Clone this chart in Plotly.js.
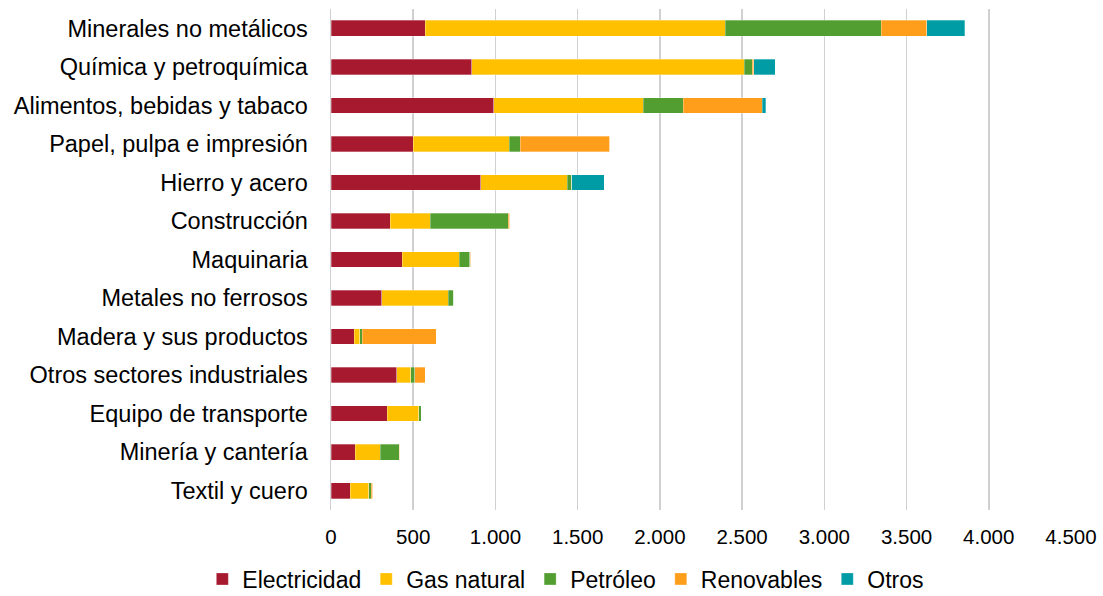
<!DOCTYPE html>
<html><head><meta charset="utf-8">
<script src="https://cdn.plot.ly/plotly-3.0.1.min.js"></script>
<style>body{margin:0;background:#fff}#c{width:1103px;height:596px}</style>
</head><body><div id="c"></div>
<script>
const categories = ["Minerales no metálicos","Química y petroquímica","Alimentos, bebidas y tabaco","Papel, pulpa e impresión","Hierro y acero","Construcción","Maquinaria","Metales no ferrosos","Madera y sus productos","Otros sectores industriales","Equipo de transporte","Minería y cantería","Textil y cuero"];
const electricidad = [574, 856, 990, 501, 912, 359, 434, 310, 142, 401, 343, 146, 116];
const gasNatural   = [1824, 1656, 908, 584, 524, 245, 345, 402, 32, 84, 192, 154, 115];
const petroleo     = [947, 49, 243, 65, 28, 475, 65, 34, 15, 24, 14, 116, 14];
const renovables   = [278, 10, 481, 545, 0, 8, 5, 0, 452, 63, 0, 3, 9];
const otros        = [232, 130, 22, 0, 199, 0, 0, 0, 0, 0, 0, 0, 0];
const tickVals = [0,500,1000,1500,2000,2500,3000,3500,4000,4500];
const tickText = ["0","500","1.000","1.500","2.000","2.500","3.000","3.500","4.000","4.500"];

const FONT = "Liberation Sans, Arial, sans-serif";
const series = [
  ["Electricidad", electricidad, "#A6192E"],
  ["Gas natural", gasNatural, "#FFC000"],
  ["Petróleo", petroleo, "#529E31"],
  ["Renovables", renovables, "#FF9E1B"],
  ["Otros", otros, "#009CA6"]
];
const data = series.map(([name, vals, color]) => ({
  type: "bar", orientation: "h", name: name, x: vals, y: categories,
  marker: {color: color, line: {color: "rgba(255,255,255,0.6)", width: 0.5}},
  hoverinfo: "x+name"
}));
const layout = {
  width: 1103, height: 596,
  margin: {l: 331, r: 32, t: 9, b: 86},
  barmode: "stack", bargap: 0.595,
  paper_bgcolor: "#fff", plot_bgcolor: "#fff",
  font: {family: FONT, color: "#000"},
  xaxis: {range: [0, 4500], tickvals: tickVals, ticktext: tickText,
    showgrid: true, gridcolor: "#D0D0D0", gridwidth: 1.5, zeroline: false,
    showline: false, ticks: "", ticklabelstandoff: 12,
    tickfont: {size: 20.5, family: FONT}},
  yaxis: {type: "category", categoryorder: "array", categoryarray: categories,
    autorange: "reversed", showgrid: false, zeroline: false, showline: true,
    linecolor: "#D0D0D0", linewidth: 1.5, ticks: "", ticklabelstandoff: 17,
    tickfont: {size: 23.5, family: FONT}},
  legend: {orientation: "h", xref: "container", yref: "container",
    x: 0.513, xanchor: "center", y: 17/596, yanchor: "middle",
    font: {size: 23, family: FONT}, traceorder: "normal", itemwidth: 30}
};
Plotly.newPlot("c", data, layout, {displayModeBar: false, staticPlot: true});
</script></body></html>
